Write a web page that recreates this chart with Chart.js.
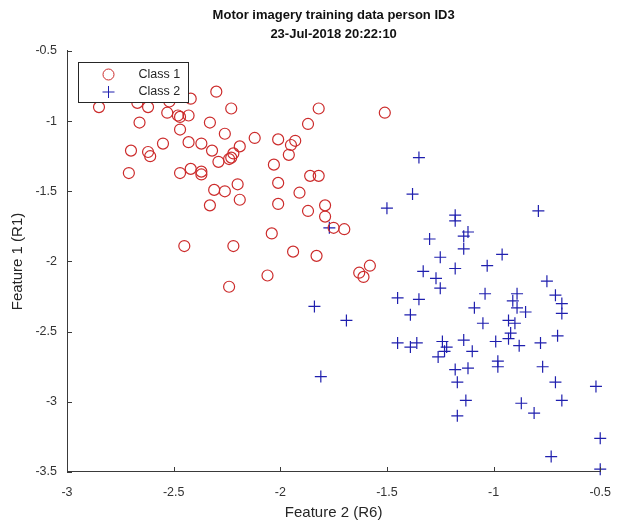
<!DOCTYPE html>
<html>
<head>
<meta charset="utf-8">
<script src="https://cdn.jsdelivr.net/npm/chart.js@4.4.0/dist/chart.umd.min.js"></script>
<style>
html, body { margin: 0; padding: 0; background: #fff; }
#wrap { width: 624px; height: 525px; }
</style>
</head>
<body>
<div id="wrap"><canvas id="chart"></canvas></div>
<script>
// values
var class1X = [-2.85, -2.67, -2.62, -2.52, -2.53, -2.48, -2.47, -2.43, -2.42, -2.30, -2.23, -1.82,
	-2.66, -2.33, -2.47, -2.26, -2.12, -2.01, -1.93, -1.95, -1.87, -2.70, -2.62, -2.61, -2.55, -2.43,
	-2.37, -2.32, -2.19, -2.22, -2.23, -2.24, -2.29, -1.96, -2.03, -2.71, -2.47, -2.42, -2.37, -2.37,
	-2.20, -2.31, -2.26, -2.01, -1.86, -1.82, -1.91, -2.19, -2.33, -2.01, -1.87, -1.79, -1.79, -1.75,
	-1.70, -2.04, -2.45, -2.22, -1.94, -1.83, -1.58, -1.63, -1.61, -2.06, -2.24, -1.51];
var class1Y = [-0.90, -0.87, -0.90, -0.86, -0.94, -0.96, -0.97, -0.96, -0.84, -0.79, -0.91, -0.91,
	-1.01, -1.01, -1.06, -1.09, -1.12, -1.13, -1.14, -1.17, -1.02, -1.21, -1.22, -1.25, -1.16, -1.15,
	-1.16, -1.21, -1.18, -1.23, -1.26, -1.27, -1.29, -1.24, -1.31, -1.37, -1.37, -1.34, -1.36, -1.38,
	-1.45, -1.49, -1.50, -1.44, -1.39, -1.39, -1.51, -1.56, -1.60, -1.59, -1.64, -1.60, -1.68, -1.76,
	-1.77, -1.80, -1.89, -1.89, -1.93, -1.96, -2.03, -2.08, -2.11, -2.10, -2.18, -0.94];

var class2X = [-1.77, -1.84, -1.69, -1.81, -1.35, -1.38, -1.50, -0.79, -1.18, -1.18, -1.12, -1.14,
	-1.30, -1.14, -1.25, -0.96, -1.33, -1.18, -1.03, -1.27, -1.25, -0.75, -1.45, -1.35, -1.04, -0.89,
	-0.71, -1.39, -1.09, -0.91, -0.89, -0.85, -0.68, -0.68, -1.05, -0.93, -0.90, -0.92, -0.93, -0.88,
	-0.78, -0.70, -1.45, -1.39, -1.36, -1.24, -1.22, -1.23, -1.26, -1.14, -1.10, -0.99, -0.98, -0.98,
	-1.18, -1.12, -1.17, -0.77, -0.71, -0.52, -1.13, -0.87, -0.81, -0.68, -1.17, -0.50, -0.73, -0.50];
var class2Y = [-1.76, -2.32, -2.42, -2.82, -1.26, -1.52, -1.62, -1.64, -1.67, -1.71, -1.79, -1.82,
	-1.84, -1.91, -1.97, -1.95, -2.07, -2.05, -2.03, -2.12, -2.19, -2.14, -2.26, -2.27, -2.23, -2.23,
	-2.24, -2.38, -2.33, -2.28, -2.33, -2.36, -2.30, -2.37, -2.44, -2.42, -2.44, -2.51, -2.55, -2.60,
	-2.58, -2.53, -2.58, -2.61, -2.58, -2.57, -2.61, -2.64, -2.68, -2.56, -2.64, -2.57, -2.71, -2.75,
	-2.77, -2.76, -2.86, -2.75, -2.86, -2.89, -2.99, -3.01, -3.08, -2.99, -3.10, -3.26, -3.39, -3.48];

var xTicks = [-3, -2.5, -2, -1.5, -1, -0.5];
var yTicks = [-0.5, -1, -1.5, -2, -2.5, -3, -3.5];
var seriesNames = ['Class 1', 'Class 2'];
var titleLines = ['Motor imagery training data person ID3', '23-Jul-2018 20:22:10'];

var red = '#cc2b2b';
var blue = '#1f1fae';
var axisColor = '#3a3a3a';
var fontFamily = '"Liberation Sans", Arial, sans-serif';

function toPoints(xs, ys) {
	var pts = [];
	for (var i = 0; i < xs.length; i++) pts.push({ x: xs[i], y: ys[i] });
	return pts;
}

// matlab style ticks, pointing into the axes
var innerTicks = {
	id: 'innerTicks',
	afterDraw: function(chart) {
		var ctx = chart.ctx, a = chart.chartArea;
		var sx = chart.scales.x, sy = chart.scales.y;
		ctx.save();
		ctx.strokeStyle = axisColor;
		ctx.lineWidth = 1;
		ctx.beginPath();
		xTicks.forEach(function(v) {
			var px = Math.round(sx.getPixelForValue(v)) + 0.5;
			ctx.moveTo(px, a.bottom);
			ctx.lineTo(px, a.bottom - 5);
		});
		yTicks.forEach(function(v) {
			var py = Math.round(sy.getPixelForValue(v)) + 0.5;
			ctx.moveTo(a.left, py);
			ctx.lineTo(a.left + 5, py);
		});
		ctx.stroke();
		ctx.restore();
	}
};

var legendBox = {
	id: 'legendBox',
	afterDraw: function(chart) {
		var ctx = chart.ctx, a = chart.chartArea;
		var x = Math.round(a.left + 11) + 0.5, y = Math.round(a.top + 11) + 0.5, w = 110, h = 40;
		ctx.save();
		ctx.fillStyle = '#fff';
		ctx.fillRect(x, y, w, h);
		ctx.strokeStyle = '#262626';
		ctx.lineWidth = 1;
		ctx.strokeRect(x, y, w, h);

		// circle marker
		ctx.strokeStyle = red;
		ctx.beginPath();
		ctx.arc(x + 30, y + 12, 5.5, 0, Math.PI * 2);
		ctx.stroke();
		// plus marker
		ctx.strokeStyle = blue;
		ctx.beginPath();
		ctx.moveTo(x + 24, y + 29.5); ctx.lineTo(x + 36, y + 29.5);
		ctx.moveTo(x + 30, y + 23.5); ctx.lineTo(x + 30, y + 35.5);
		ctx.stroke();

		ctx.fillStyle = '#262626';
		ctx.font = '12.5px ' + fontFamily;
		ctx.textBaseline = 'middle';
		ctx.fillText(seriesNames[0], x + 60, y + 12);
		ctx.fillText(seriesNames[1], x + 60, y + 29);
		ctx.restore();
	}
};

var ctx = document.getElementById('chart').getContext('2d');
var myChart = new Chart(ctx, {
	type: 'scatter',
	data: {
		datasets: [
			{ label: seriesNames[0], data: toPoints(class1X, class1Y), pointStyle: 'circle', pointRadius: 5.5, pointHoverRadius: 5.5,
				borderColor: red, backgroundColor: 'rgba(0,0,0,0)', borderWidth: 1.2, clip: false },
			{ label: seriesNames[1], data: toPoints(class2X, class2Y), pointStyle: 'cross', pointRadius: 6, pointHoverRadius: 6,
				borderColor: blue, backgroundColor: blue, borderWidth: 1.2, clip: false }
		]
	},
	options: {
		responsive: true,
		maintainAspectRatio: false,
		animation: false,
		layout: { padding: { left: 0, right: 15, top: 0, bottom: 0 } },
		plugins: {
			legend: { display: false },
			tooltip: { enabled: false },
			title: {
				display: true,
				fullSize: false,
				text: titleLines,
				color: '#111',
				font: { family: fontFamily, size: 13, weight: 'bold', lineHeight: 1.46 },
				padding: { top: 5.5, bottom: 7.5 }
			}
		},
		scales: {
			x: {
				type: 'linear', min: -3, max: -0.5,
				afterBuildTicks: function(s) { s.ticks = xTicks.map(function(v) { return { value: v }; }); },
				afterFit: function(s) { s.height = 53; },
				grid: { display: false, drawTicks: false },
				border: { display: true, color: axisColor, width: 1 },
				ticks: { color: '#333', padding: 13, font: { family: fontFamily, size: 12.5 }, maxRotation: 0,
					callback: function(v) { return String(v); } },
				title: { display: true, text: 'Feature 2 (R6)', color: '#262626', padding: { top: 0, bottom: 3 },
					font: { family: fontFamily, size: 15 } }
			},
			y: {
				type: 'linear', min: -3.5, max: -0.5,
				afterBuildTicks: function(s) { s.ticks = yTicks.map(function(v) { return { value: v }; }); },
				afterFit: function(s) { s.width = 67; },
				grid: { display: false, drawTicks: false },
				border: { display: true, color: axisColor, width: 1 },
				ticks: { color: '#333', padding: 10, font: { family: fontFamily, size: 12.5 },
					callback: function(v) { return String(v); } },
				title: { display: true, text: 'Feature 1 (R1)', color: '#262626', padding: { top: 9, bottom: 0 },
					font: { family: fontFamily, size: 15 } }
			}
		}
	},
	plugins: [innerTicks, legendBox]
});
</script>
</body>
</html>
